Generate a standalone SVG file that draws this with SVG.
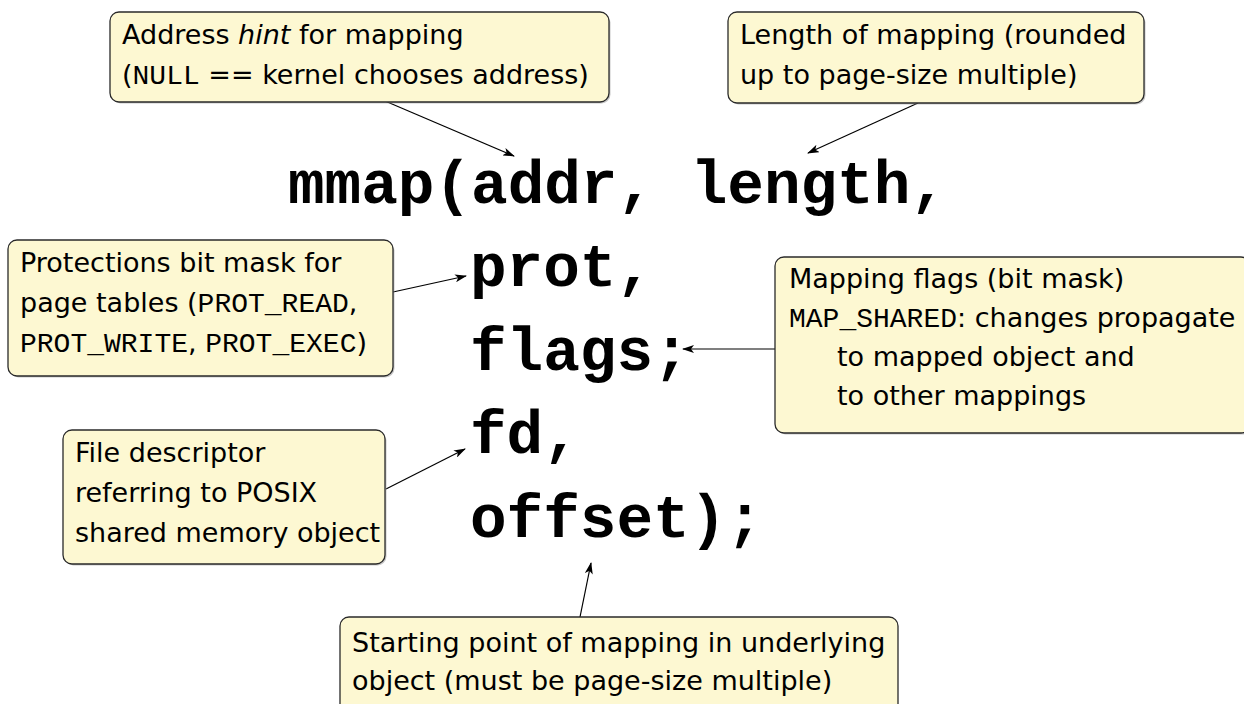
<svg xmlns="http://www.w3.org/2000/svg" width="1244" height="704" viewBox="0 0 1244 704">
<defs>
<marker id="ah" markerWidth="12" markerHeight="8" refX="11" refY="4" orient="auto" markerUnits="userSpaceOnUse">
<path d="M0,0 L12,4 L0,8 L3,4 Z" fill="#000"/>
</marker>
</defs>
<style>
.box{fill:#fdf8d2;stroke:#2a2a2a;stroke-width:1.3}
.sh{fill:#9a9a9a;opacity:0.55}
.t{font-family:"DejaVu Sans",sans-serif;font-size:27px;fill:#000}
.m{font-family:"Liberation Mono",monospace;font-size:28px}
.code{font-family:"Liberation Mono","Courier New",monospace;font-weight:bold;font-size:61px;fill:#000}
.c{stroke:#000;stroke-width:1.2;fill:none;marker-end:url(#ah)}
</style>
<rect width="1244" height="704" fill="#fff"/>

<g id="code">
<text class="code" x="288" y="203">mmap(addr, length,</text>
<text class="code" x="470" y="286">prot,</text>
<text class="code" x="470" y="370">flags;</text>
<text class="code" x="470" y="453">fd,</text>
<text class="code" x="470" y="537">offset);</text>
</g>

<g id="connectors">
<line class="c" x1="385" y1="101" x2="514" y2="156"/>
<line class="c" x1="918" y1="103" x2="808" y2="153"/>
<line class="c" x1="393" y1="292" x2="466" y2="276"/>
<line class="c" x1="775" y1="349" x2="683" y2="349"/>
<line class="c" x1="386" y1="489" x2="465" y2="449"/>
<line class="c" x1="580" y1="617" x2="591" y2="563"/>
</g>

<g id="box-addr">
<rect class="sh" x="111.5" y="13.5" width="499" height="90" rx="9"/>
<rect class="box" x="110" y="12" width="499" height="90" rx="9"/>
<text class="t" x="122" y="44">Address <tspan font-style="italic">hint</tspan> for mapping</text>
<text class="t" x="122" y="84">(<tspan class="m">NULL</tspan> == kernel chooses address)</text>
</g>

<g id="box-length">
<rect class="sh" x="729.5" y="13.5" width="416" height="91" rx="9"/>
<rect class="box" x="728" y="12" width="416" height="91" rx="9"/>
<text class="t" x="740" y="44">Length of mapping (rounded</text>
<text class="t" x="740" y="84">up to page-size multiple)</text>
</g>

<g id="box-prot">
<rect class="sh" x="9.5" y="241.5" width="385" height="136" rx="9"/>
<rect class="box" x="8" y="240" width="385" height="136" rx="9"/>
<text class="t" x="20" y="272">Protections bit mask for</text>
<text class="t" x="20" y="312">page tables (<tspan class="m">PROT_READ</tspan>,</text>
<text class="t" x="20" y="352"><tspan class="m">PROT_WRITE</tspan>, <tspan class="m">PROT_EXEC</tspan>)</text>
</g>

<g id="box-flags">
<rect class="sh" x="776.5" y="258.5" width="475" height="176" rx="9"/>
<rect class="box" x="775" y="257" width="475" height="176" rx="9"/>
<text class="t" x="789" y="288">Mapping flags (bit mask)</text>
<text class="t" x="789" y="327"><tspan class="m">MAP_SHARED</tspan>: changes propagate</text>
<text class="t" x="837" y="366">to mapped object and</text>
<text class="t" x="837" y="405">to other mappings</text>
</g>

<g id="box-fd">
<rect class="sh" x="64.5" y="431.5" width="322" height="134" rx="9"/>
<rect class="box" x="63" y="430" width="322" height="134" rx="9"/>
<text class="t" x="75" y="462">File descriptor</text>
<text class="t" x="75" y="502">referring to POSIX</text>
<text class="t" x="75" y="542">shared memory object</text>
</g>

<g id="box-offset">
<rect class="box" x="340" y="617" width="558" height="110" rx="9"/>
<text class="t" x="352" y="652">Starting point of mapping in underlying</text>
<text class="t" x="352" y="690">object (must be page-size multiple)</text>
</g>
</svg>
